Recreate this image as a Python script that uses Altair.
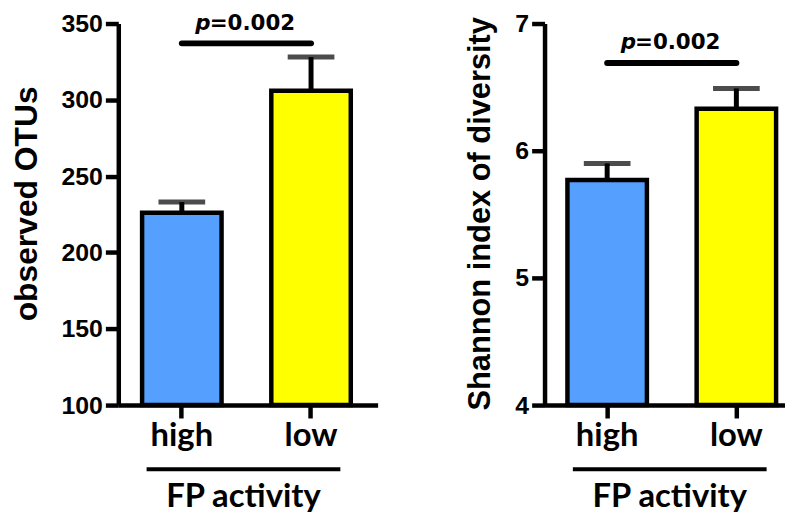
import altair as alt
import pandas as pd

groups = ["high", "low"]
otus_mean = [226, 306]
otus_upper = [233, 328]
shannon_mean = [5.77, 6.33]
shannon_upper = [5.90, 6.49]
otus_ticks = [100, 150, 200, 250, 300, 350]
shannon_ticks = [4, 5, 6, 7]
otus_domain = [100, 350]
shannon_domain = [4, 7]
p_value_text = "=0.002"
otus_sig = {"line": 337, "text": 346}
shannon_sig = {"line": 6.69, "text": 6.80}
bar_colors = ["#559FFF", "#FFFF00"]
x_title = "FP activity"

NUM_FONT = "Liberation Sans"
P_FONT = "DejaVu Sans"
CAT_FONT = "Lato"


def panel(mean, upper, domain, ticks, ytitle, ytitle_size, width, pad_outer, align, sig, title_y):
    df = pd.DataFrame({"group": groups, "mean": mean, "upper": upper,
                       "base": [domain[0]] * len(groups)})
    sig_df = pd.DataFrame({"x1": [groups[0]], "x2": [groups[1]],
                           "y": [sig["line"]], "ty": [sig["text"]]})
    xscale = alt.Scale(domain=groups, paddingInner=0.385, paddingOuter=pad_outer, align=align)
    yscale = alt.Scale(domain=domain, nice=False, zero=False)
    xaxis = alt.Axis(title=None, labelFont=CAT_FONT, labelFontSize=33, labelFontWeight="bold",
                     labelColor="black", labelAngle=0, labelPadding=2, tickSize=13,
                     tickWidth=4.5, tickColor="black", domainColor="black", domainWidth=4.5)
    yaxis = alt.Axis(values=ticks, title=ytitle, titleFont=NUM_FONT, titleFontSize=ytitle_size,
                     titleFontWeight="bold", titleColor="black", titlePadding=18, titleY=title_y,
                     labelFont=NUM_FONT, labelFontSize=25, labelFontWeight="bold",
                     labelColor="black", labelPadding=3, tickSize=13, tickWidth=4.5,
                     tickColor="black", domainColor="black", domainWidth=4.5, grid=False)
    base = alt.Chart(df)
    x = alt.X("group:N", scale=xscale, axis=xaxis, sort=groups)
    bars = base.mark_bar(stroke="black", strokeWidth=4.5).encode(
        x=x,
        y=alt.Y("mean:Q", scale=yscale, axis=yaxis),
        y2="base:Q",
        color=alt.Color("group:N", scale=alt.Scale(domain=groups, range=bar_colors), legend=None),
    )
    err = base.mark_rule(color="black", strokeWidth=5).encode(
        x=x, y=alt.Y("mean:Q", scale=yscale, axis=yaxis), y2="upper:Q")
    cap = base.mark_tick(color="black", size=47, thickness=5).encode(
        x=x, y=alt.Y("upper:Q", scale=yscale, axis=yaxis))
    sbase = alt.Chart(sig_df)
    sx = alt.X("x1:N", scale=xscale, axis=xaxis)
    sig_line = sbase.mark_rule(color="black", strokeWidth=6, strokeCap="round").encode(
        x=sx, x2="x2:N", y=alt.Y("y:Q", scale=yscale, axis=yaxis))
    p_txt = sbase.mark_text(text="p", align="right", baseline="alphabetic", dx=29,
                            font=P_FONT, fontSize=21.5, fontStyle="italic",
                            fontWeight="bold", color="black").encode(
        x=sx, y=alt.Y("ty:Q", scale=yscale, axis=yaxis))
    v_txt = sbase.mark_text(text=p_value_text, align="left", baseline="alphabetic", dx=28,
                            font=P_FONT, fontSize=21.5, fontWeight="bold",
                            color="black").encode(
        x=sx, y=alt.Y("ty:Q", scale=yscale, axis=yaxis))
    main = alt.layer(bars, err, cap, sig_line, p_txt, v_txt)
    deco = base.mark_point(opacity=0).encode(
        x=alt.X("group:N", sort=groups,
                scale=alt.Scale(domain=groups, range=[28, 223]),
                axis=alt.Axis(orient="bottom", offset=64, title=x_title, labels=False,
                              ticks=False, domainWidth=4, domainColor="black",
                              titleFont=CAT_FONT, titleFontSize=33, titleFontWeight="bold",
                              titleColor="black", titlePadding=12)))
    return alt.layer(main, deco).resolve_scale(x="independent").properties(
        width=width, height=384)


left = panel(otus_mean, otus_upper, otus_domain, otus_ticks, "observed OTUs", 32,
             261, 0.196, 0.47, otus_sig, 181)
right = panel(shannon_mean, shannon_upper, shannon_domain, shannon_ticks,
              "Shannon index of diversity", 31, 242, 0.123, 0.72, shannon_sig, 191)

chart = alt.hconcat(left, right, spacing=88).properties(
    padding={"left": 2, "top": 2, "right": 0, "bottom": 0}
).configure_view(stroke=None)

chart.save("out.html", embed_options={"renderer": "svg", "actions": False})
